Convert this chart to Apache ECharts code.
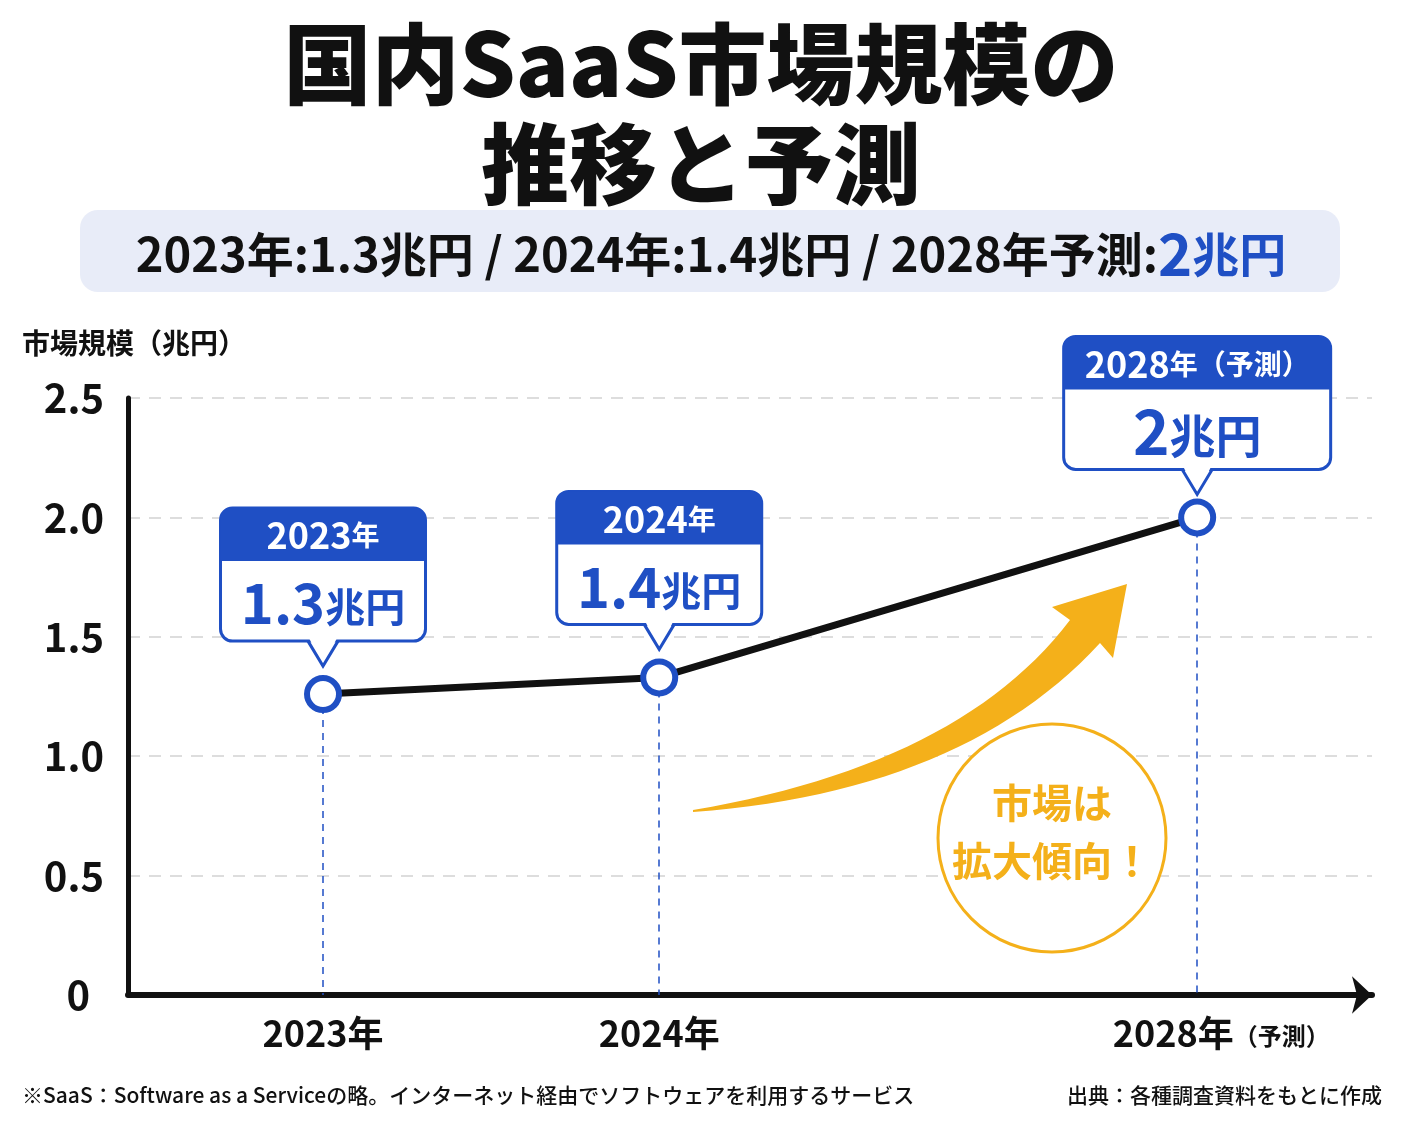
<!DOCTYPE html>
<html>
<head>
<meta charset="utf-8">
<script src="https://cdn.jsdelivr.net/npm/echarts@6/dist/echarts.min.js"></script>
<style>
html, body { margin: 0; padding: 0; background: #fff; }
#main { width: 1402px; height: 1122px; }
</style>
</head>
<body>
<div id="main"></div>
<script>
// 年ラベル / x軸上の並び / 市場規模(兆円)
var years = ['2023年', '2024年', '2028年'];
var yearNotes = ['', '', '（予測）'];
var slots = [1, 2, 3.6];            // 2028年は間をあけて配置
var values = [1.26, 1.33, 2.0];     // 図中の点の高さ
var valueLabels = ['1.3', '1.4', '2'];
var yTicks = [0, 0.5, 1.0, 1.5, 2.0, 2.5];

var FONT = '"Noto Sans CJK JP", "Noto Sans", sans-serif';
var BLUE = '#1f4fc4';
var YELLOW = '#f4b01a';
var INK = '#111';

var chart = echarts.init(document.getElementById('main'));

// サブタイトル（上の帯）
var subParts = years.map(function (y, i) {
    var head = y + (i === 2 ? '予測' : '') + ':';
    if (i === 2) return '{a|' + head + '}{b|' + valueLabels[i] + '}{c|兆円}';
    return '{a|' + head + valueLabels[i] + '兆円 / }';
});

var option = {
    backgroundColor: '#fff',
    animation: false,
    title: {
        text: '国内SaaS市場規模の\n推移と予測',
        left: 'center',
        top: 9,
        textStyle: {
            fontFamily: FONT,
            fontSize: 88,
            fontWeight: 900,
            lineHeight: 100,
            color: INK
        }
    },
    grid: {
        left: 128,
        top: 398,
        width: 1244,
        height: 597
    },
    xAxis: {
        type: 'value',
        min: 0.42,
        max: 4.12,
        splitLine: { show: false },
        axisTick: { show: false },
        axisLine: {
            show: true,
            lineStyle: { color: INK, width: 6 },
            symbol: ['none', 'arrow'],
            symbolSize: [28, 20]
        },
        axisLabel: {
            customValues: slots,
            margin: 20,
            formatter: function (v) {
                var i = slots.indexOf(v);
                if (i < 0) return '';
                if (yearNotes[i]) return '{sp|}{y|' + years[i] + '}{n|' + yearNotes[i] + '}';
                return '{y|' + years[i] + '}';
            },
            rich: {
                sp: { width: 48 },
                y: { fontFamily: FONT, fontSize: 36, fontWeight: 'bold', color: INK },
                n: { fontFamily: FONT, fontSize: 24, fontWeight: 'bold', color: INK, padding: [6, 0, 0, 0] }
            }
        }
    },
    yAxis: {
        type: 'value',
        min: yTicks[0],
        max: yTicks[yTicks.length - 1],
        interval: 0.5,
        axisLine: { show: true, lineStyle: { color: INK, width: 5 } },
        axisTick: { show: false },
        axisLabel: {
            margin: 24,
            fontFamily: FONT,
            fontSize: 40,
            fontWeight: 'bold',
            color: INK,
            formatter: function (v) { return v === 0 ? '{z|0}' : v.toFixed(1); },
            rich: {
                z: { fontFamily: FONT, fontSize: 40, fontWeight: 'bold', color: INK, padding: [0, 14, 0, 0] }
            }
        },
        splitLine: {
            lineStyle: { color: '#d2d2d2', width: 1.5, type: [12, 9] }
        }
    },
    series: [{
        type: 'line',
        data: slots.map(function (s, i) { return [s, values[i]]; }),
        lineStyle: { color: INK, width: 7 },
        symbol: 'circle',
        symbolSize: 32,
        itemStyle: { color: '#fff', borderColor: BLUE, borderWidth: 6 },
        z: 5,
        markLine: {
            silent: true,
            symbol: ['none', 'none'],
            label: { show: false },
            lineStyle: { color: BLUE, width: 1.5, type: [7, 6] },
            data: slots.map(function (s, i) {
                return [{ coord: [s, values[i]] }, { coord: [s, 0] }];
            })
        }
    }]
};
chart.setOption(option);

// 2次ベジェ曲線を折れ線にする（矢印の形用）
function quad(a, c, b, n) {
    var pts = [];
    for (var k = 0; k <= n; k++) {
        var t = k / n, u = 1 - t;
        pts.push([u * u * a[0] + 2 * u * t * c[0] + t * t * b[0],
                  u * u * a[1] + 2 * u * t * c[1] + t * t * b[1]]);
    }
    return pts;
}

// 吹き出し・矢印などの装飾
var gfx = [];

gfx.push({
    type: 'rect',
    shape: { x: 80, y: 210, width: 1260, height: 82, r: 18 },
    style: { fill: '#e8ecf8' }
});
gfx.push({
    type: 'text',
    x: 711, y: 254,
    style: {
        text: subParts.join(''),
        align: 'center',
        verticalAlign: 'middle',
        rich: {
            a: { fontFamily: FONT, fontSize: 47, fontWeight: 'bold', fill: INK },
            b: { fontFamily: FONT, fontSize: 58, fontWeight: 'bold', fill: BLUE },
            c: { fontFamily: FONT, fontSize: 47, fontWeight: 'bold', fill: BLUE }
        }
    }
});

gfx.push({
    type: 'text',
    x: 22, y: 343,
    style: {
        text: '市場規模（兆円）',
        fontFamily: FONT, fontSize: 28, fontWeight: 'bold', fill: INK,
        verticalAlign: 'middle'
    }
});

slots.forEach(function (s, i) {
    var p = chart.convertToPixel({ seriesIndex: 0 }, [s, values[i]]);
    var w = i === 2 ? 267 : 205, h = 133, hh = 53;
    var gap = i === 2 ? 48 : 53;
    var x0 = p[0] - w / 2, y0 = p[1] - gap - h, yb = y0 + h;
    gfx.push({
        type: 'rect', z: 10,
        shape: { x: x0, y: y0, width: w, height: h, r: 12 },
        style: { fill: '#fff', stroke: BLUE, lineWidth: 3 }
    });
    gfx.push({
        type: 'rect', z: 11,
        shape: { x: x0, y: y0, width: w, height: hh, r: [12, 12, 0, 0] },
        style: { fill: BLUE }
    });
    gfx.push({
        type: 'polygon', z: 12,
        shape: { points: [[p[0] - 14, yb - 3], [p[0], yb + 25], [p[0] + 14, yb - 3]] },
        style: { fill: '#fff' }
    });
    gfx.push({
        type: 'polyline', z: 12,
        shape: { points: [[p[0] - 15, yb], [p[0], yb + 25], [p[0] + 15, yb]] },
        style: { stroke: BLUE, lineWidth: 3, fill: null }
    });
    var head = '{y|' + years[i].replace('年', '') + '}{k|年}' + (yearNotes[i] ? '{k|' + yearNotes[i] + '}' : '');
    gfx.push({
        type: 'text', z: 13,
        x: p[0], y: y0 + hh / 2 + 1,
        style: {
            text: head,
            align: 'center', verticalAlign: 'middle',
            rich: {
                y: { fontFamily: FONT, fontSize: 36, fontWeight: 'bold', fill: '#fff' },
                k: { fontFamily: FONT, fontSize: 28, fontWeight: 'bold', fill: '#fff' }
            }
        }
    });
    var big = i === 2 ? 62 : 56;
    gfx.push({
        type: 'text', z: 13,
        x: p[0], y: y0 + hh + (h - hh) / 2 + 2,
        style: {
            text: '{v|' + valueLabels[i] + '}{u|兆円}',
            align: 'center', verticalAlign: 'middle',
            rich: {
                v: { fontFamily: FONT, fontSize: big, fontWeight: 'bold', fill: BLUE },
                u: { fontFamily: FONT, fontSize: i === 2 ? 46 : 40, fontWeight: 'bold', fill: BLUE, padding: [8, 0, 0, 0] }
            }
        }
    });
});

// 黄色い矢印
var upper = quad([693, 810], [960, 765], [1070, 620], 28);
var lower = quad([1100, 643], [963, 792], [693, 812], 28);
var arrowPts = upper.concat([[1052, 607], [1127, 584], [1113, 658]]).concat(lower);
gfx.push({
    type: 'polygon', z: 3,
    shape: { points: arrowPts },
    style: { fill: YELLOW }
});
gfx.push({
    type: 'circle', z: 4,
    shape: { cx: 1052, cy: 838, r: 114 },
    style: { fill: '#fff', stroke: YELLOW, lineWidth: 3 }
});
gfx.push({
    type: 'text', z: 5,
    x: 1052, y: 832,
    style: {
        text: '市場は\n拡大傾向！',
        align: 'center', verticalAlign: 'middle',
        fontFamily: FONT, fontSize: 40, fontWeight: 'bold', lineHeight: 58,
        fill: YELLOW
    }
});

// 注記
gfx.push({
    type: 'text',
    x: 22, y: 1095,
    style: {
        text: '※SaaS：Software as a Serviceの略。インターネット経由でソフトウェアを利用するサービス',
        fontFamily: FONT, fontSize: 21, fontWeight: 500, fill: INK,
        verticalAlign: 'middle'
    }
});
gfx.push({
    type: 'text',
    x: 1382, y: 1095,
    style: {
        text: '出典：各種調査資料をもとに作成',
        fontFamily: FONT, fontSize: 21, fontWeight: 500, fill: INK,
        align: 'right', verticalAlign: 'middle'
    }
});

chart.setOption({ graphic: gfx });
</script>
</body>
</html>
